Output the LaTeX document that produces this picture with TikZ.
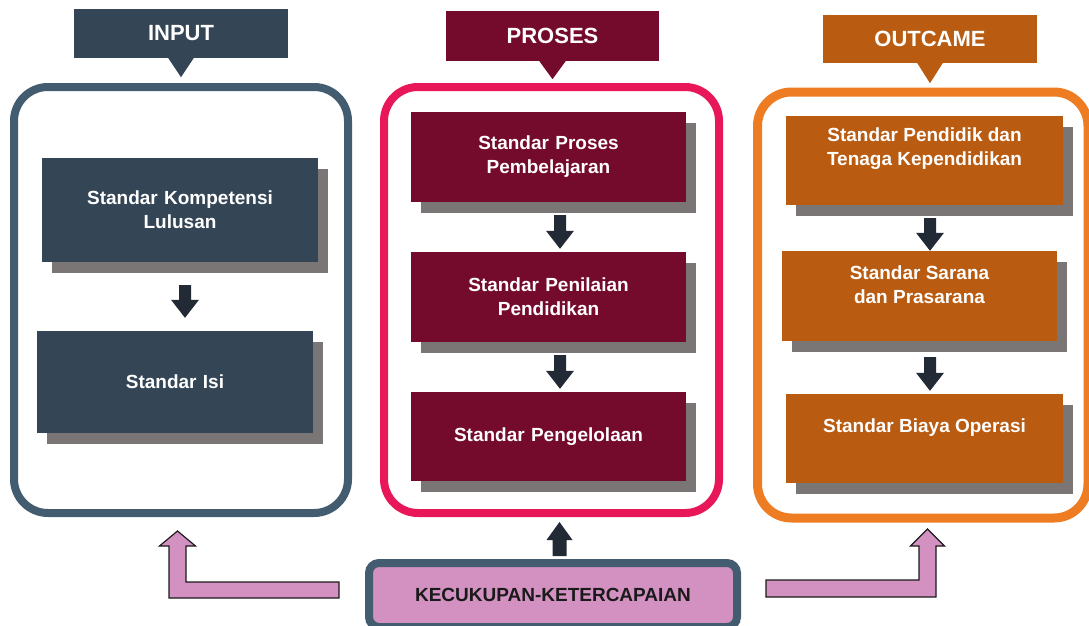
\documentclass[tikz,border=0pt]{standalone}
\usepackage{fontspec}
\setmainfont{Liberation Sans}
\usetikzlibrary{shadows,calc}
\definecolor{slate}{HTML}{344556}
\definecolor{slateframe}{HTML}{445C70}
\definecolor{maroon}{HTML}{740A2C}
\definecolor{crimson}{HTML}{E8175A}
\definecolor{rust}{HTML}{B95B10}
\definecolor{orangeframe}{HTML}{EE7C22}
\definecolor{shgrey}{HTML}{7A7676}
\definecolor{darkarr}{HTML}{222A35}
\definecolor{pinkfill}{HTML}{D291C0}
\definecolor{inkdark}{HTML}{1A1A1A}
\newcommand\myDown[2]{\fill[darkarr] ($(#1)+(-6,0)$) -- ($(#2)+(-6,-18)$) -- ($(#2)+(-14,-18)$) -- (#2) -- ($(#2)+(14,-18)$) -- ($(#2)+(6,-18)$) -- ($(#1)+(6,0)$) -- cycle;}
\newcommand\myUp[2]{\fill[darkarr] ($(#1)+(-7,0)$) -- ($(#2)+(-7,18)$) -- ($(#2)+(-13,18)$) -- (#2) -- ($(#2)+(13,18)$) -- ($(#2)+(7,18)$) -- ($(#1)+(7,0)$) -- cycle;}
\begin{document}
\begin{tikzpicture}[x=1pt,y=-1pt,
  boxfont/.style={font=\bfseries\fontsize{19}{24}\selectfont},
  stdbox/.style={boxfont, text=white, align=center, text width=262pt, inner sep=0pt,
     minimum height=90pt, minimum width=276pt,
     drop shadow={shadow xshift=10pt, shadow yshift=-11pt, fill=shgrey, opacity=1}},
  lbl/.style={boxfont, text=white, align=center},
  tab/.style={font=\bfseries\fontsize{22}{26}\selectfont, text=white, inner sep=0pt,
     minimum width=214pt, minimum height=49pt},
  frame/.style={line width=8pt, rounded corners=34pt, minimum width=334pt, minimum height=426pt, inner sep=0pt},
  pinkarr/.style={fill=pinkfill, draw=inkdark, line width=1.2pt, line join=miter}
]
\useasboundingbox (0,0) rectangle (1089,626);
\clip (0,0) rectangle (1089,626);

% ---------- frames ----------
\node[frame, draw=slateframe] (fin) at (181,300) {};
\node[frame, draw=crimson, minimum width=335pt] (fpr) at (551.5,300) {};
\node[frame, draw=orangeframe, line width=9pt, minimum width=330.5pt] (fou) at (922.75,305) {};

% ---------- header tabs ----------
\node[tab, fill=slate] (tin) at (181,33.5) {INPUT};
\fill[slate] ([xshift=-13pt,yshift=0.5pt]tin.south) -- ([xshift=13pt,yshift=0.5pt]tin.south) -- ([yshift=-19pt]tin.south) -- cycle;
\node[tab, fill=maroon, minimum width=213pt, minimum height=50pt] (tpr) at (552.5,36) {PROSES};
\fill[maroon] ([xshift=-13.5pt,yshift=0.5pt]tpr.south) -- ([xshift=13.5pt,yshift=0.5pt]tpr.south) -- ([yshift=-18pt]tpr.south) -- cycle;
\node[tab, fill=rust, minimum height=48pt] (tou) at (930,39) {OUTCAME};
\fill[rust] ([xshift=-13pt,yshift=0.5pt]tou.south) -- ([xshift=13pt,yshift=0.5pt]tou.south) -- ([yshift=-20pt]tou.south) -- cycle;

% ---------- INPUT boxes ----------
\node[stdbox, fill=slate, minimum height=104pt] (in1) at (180,210) {Standar Kompetensi\\Lulusan};
\node[stdbox, fill=slate, minimum height=102pt] (in2) at (175,382) {Standar Isi};
\myDown{$(in1.south)+(5,23)$}{$(in2.north)+(10,-13)$}

% ---------- PROSES boxes ----------
\node[stdbox, fill=maroon, minimum width=275pt] (pr1) at (548.5,157) {Standar Proses\\Pembelajaran};
\node[stdbox, fill=maroon, minimum width=275pt] (pr2) at (548.5,297) {Standar Penilaian\\Pendidikan};
\node[stdbox, fill=maroon, minimum width=275pt, minimum height=89pt] (pr3) at (548.5,436.5) {Standar Pengelolaan};
\myDown{$(pr1.south)+(11.5,13)$}{$(pr2.north)+(11.5,-3)$}
\myDown{$(pr2.south)+(11.5,13)$}{$(pr3.north)+(11.5,-3)$}

% ---------- OUTCAME boxes ----------
\node[stdbox, fill=rust, minimum width=277pt, minimum height=89pt,
  label={[lbl, yshift=11pt]center:{Standar Pendidik dan\\Tenaga Kependidikan}}] (ou1) at (924.5,160) {};
\node[stdbox, fill=rust, minimum width=275pt,
  label={[lbl, yshift=11pt]center:{Standar Sarana\\dan Prasarana}}] (ou2) at (919.5,296) {};
\node[stdbox, fill=rust, minimum width=277pt, minimum height=89pt,
  label={[lbl, yshift=10.5pt]center:{Standar Biaya Operasi}}] (ou3) at (924.5,438.5) {};
\myDown{$(ou1.south)+(5.5,13.5)$}{$(ou2.north)+(10.5,0)$}
\myDown{$(ou2.south)+(10.5,16)$}{$(ou3.north)+(5.5,-3)$}

% ---------- bottom box ----------
\node[draw=slateframe, line width=8pt, fill=pinkfill, rounded corners=10pt,
  minimum width=368pt, minimum height=64pt, inner sep=0pt, boxfont, text=inkdark] (kk) at (553,595) {KECUKUPAN-KETERCAPAIAN};
\myUp{$(kk.north)+(6.5,-3)$}{$(fpr.south)+(8,5)$}

% ---------- pink L arrows ----------
\coordinate (lstart) at ($(kk.west)+(-26,-5)$);
\coordinate (lend) at ($(fin.south)+(-3.5,14)$);
\draw[pinkarr] ($(lstart)+(0,-8)$) -- ($(lstart)+(0,8)$) -- ($(lend |- lstart)+(-8.5,8)$)
  -- ($(lend)+(-8.5,15)$) -- ($(lend)+(-18,15)$) -- (lend) -- ($(lend)+(18,15)$)
  -- ($(lend)+(8.5,15)$) -- ($(lend |- lstart)+(8.5,-8)$) -- cycle;
\coordinate (rstart) at ($(kk.east)+(25,-6.5)$);
\coordinate (rend) at ($(fou.south)+(4.75,6.5)$);
\draw[pinkarr] ($(rstart)+(0,-8.5)$) -- ($(rstart)+(0,8.5)$) -- ($(rend |- rstart)+(8.5,8.5)$)
  -- ($(rend)+(8.5,17)$) -- ($(rend)+(17,17)$) -- (rend) -- ($(rend)+(-17,17)$)
  -- ($(rend)+(-8.5,17)$) -- ($(rend |- rstart)+(-8.5,-8.5)$) -- cycle;
\end{tikzpicture}
\end{document}
